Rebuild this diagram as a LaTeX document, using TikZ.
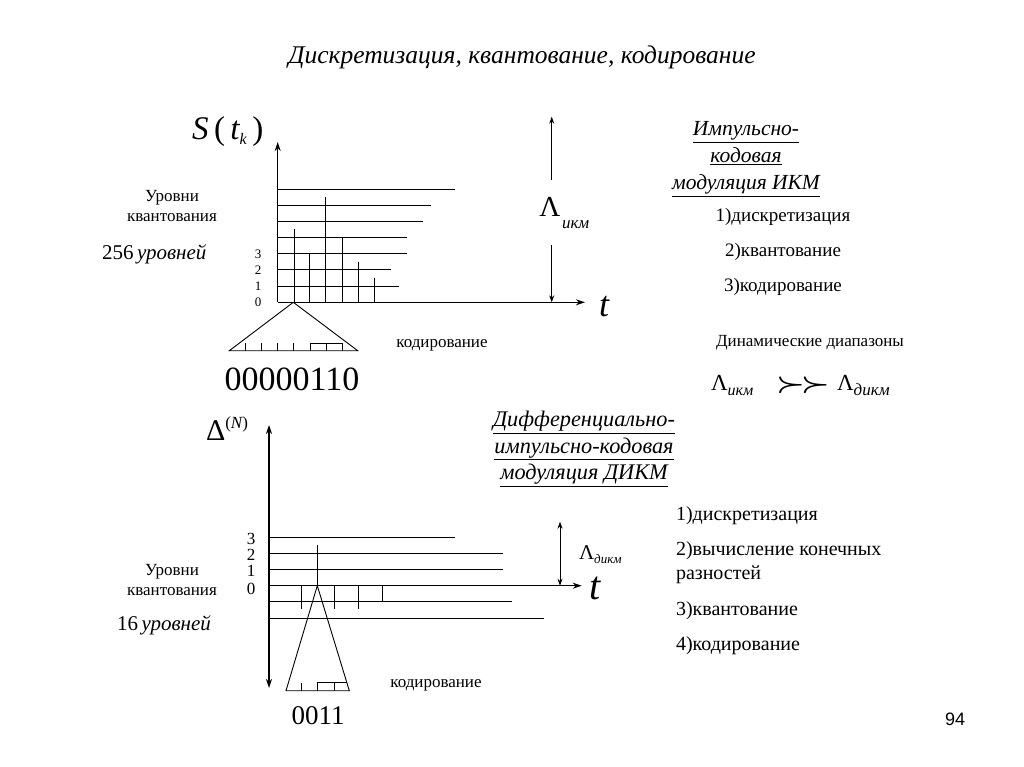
\documentclass[tikz,border=0pt]{standalone}
\usepackage{fontspec}
\usepackage{graphicx}
\setmainfont{Liberation Serif}
\newfontfamily\sansf{Liberation Sans}
\usetikzlibrary{arrows.meta}
\newcommand\fsz[1]{\fontsize{#1}{#1}\selectfont}
\begin{document}
\begin{tikzpicture}[x=1pt,y=-1pt,
  every node/.style={inner sep=0pt,outer sep=0pt},
  thinline/.style={line width=0.9pt},
  axisline/.style={line width=1.4pt},
  arr/.style={-{Stealth[length=9pt,width=6pt]}},
  darr/.style={{Stealth[length=9pt,width=6pt]}-{Stealth[length=9pt,width=6pt]}},
  smallarr/.style={-{Stealth[length=7pt,width=5pt]}},
  dsmallarr/.style={{Stealth[length=7pt,width=5pt]}-{Stealth[length=7pt,width=5pt]}},
  txt/.style={font=\fsz{17}},
  lvl/.style={font=\fsz{13}},
  lvlb/.style={font=\fsz{17}},
]
\fill[white] (0,0) rectangle (1024,767);
\useasboundingbox (0,0) rectangle (1024,767);

% title
\node[font=\fsz{25.5}\itshape] (title) at (522,57) {Дискретизация, квантование, кодирование};

% ===== top chart =====
\coordinate (O1) at (277.7,302.3);
\coordinate (Y1) at (277.7,142);
\coordinate (X1) at (585,302.3);
\draw[axisline,arr] (O1) -- (Y1);
\draw[axisline,arr] (O1) -- (X1);
\foreach \y/\e in {189/455,205/431,221/423,237/407,253.7/407,269.7/391,286/399}
  \draw[thinline] (277.7,\y) -- (\e,\y);
\foreach \x/\t in {294/229.3,309.7/253.7,325.7/197.3,342/237.7,358/262,374/278}
  \draw[thinline] (\x,302.3) -- (\x,\t);
\node[lvl] (l3) at (258,254) {3};
\node[lvl] (l2) at (258,270) {2};
\node[lvl] (l1) at (258,286) {1};
\node[lvl] (l0) at (258,302) {0};
% coding triangle
\draw[thinline] (293.3,302.3) -- (229.3,350.7) -- (357.7,350.7) -- cycle;
\foreach \x in {245,261,277,293.3,310,326,342}
  \draw[thinline] (\x,350.7) -- (\x,343.3);
\draw[thinline] (310,343.3) -- (342,343.3);
\node[font=\fsz{34}] (code1) at (292,379) {00000110};
\node[txt] (kod1) at (442,345) {кодирование};

% S(t_k)
\node[font=\fsz{33}, anchor=base west] (S) at (192,140)
  {\itshape S\upshape\,(\,\itshape t\raisebox{-5pt}{\fsz{16}k}\upshape\,)};

% Lambda ikm arrow
\coordinate (La) at (551.7,180);
\coordinate (Lt) at (551.7,116.7);
\coordinate (Lb) at (551.7,245);
\coordinate (Lo) at (551.7,302.3);
\draw[thinline,smallarr] (La) -- (Lt);
\draw[thinline,smallarr] (Lb) -- (Lo);
\node[font=\fsz{29}, anchor=base] (LamI) at (550,217) {Λ};
\node[font=\fsz{17}\itshape, anchor=base west] (LamIsub) at (562,229) {икм};

% t label
\node[font=\fsz{36}\itshape] (t1) at (604,307) {t};

% levels text top
\node[txt] (ur1) at (172,198) {Уровни};
\node[txt] (kv1) at (172,218) {квантования};
\node[font=\fsz{21}, anchor=base west] (n256) at (102,259) {256\,\itshape уровней};

% heading IKM
\node[font=\fontsize{21.5}{27}\selectfont\itshape,align=center] (h1) at (746,159)
  {\underline{Импульсно-}\\\underline{кодовая}\\\underline{модуляция ИКМ}};
\node[font=\fsz{19}] (s1) at (783,217) {1)дискретизация};
\node[font=\fsz{19}] (s2) at (783,252) {2)квантование};
\node[font=\fsz{19}] (s3) at (783,287) {3)кодирование};

% dynamic ranges
\node[txt] (dyn) at (810,343) {Динамические диапазоны};
\node[font=\fsz{23}, anchor=base west] (dl1) at (711,390) {Λ\raisebox{-5pt}{\fsz{16}\itshape икм}};
\node[anchor=base] (succ) at (803,391) {\scalebox{1.3}[1]{\fsz{24}\boldmath$\succ\mkern-2mu\succ$}};
\node[font=\fsz{23}, anchor=base west] (dl2) at (837,390) {Λ\raisebox{-5pt}{\fsz{17}\itshape дикм}};

% ===== bottom chart =====
\coordinate (O2) at (269,585.7);
\coordinate (Y2t) at (269,425);
\coordinate (Y2b) at (269,688);
\coordinate (X2) at (581.7,585.7);
\draw[axisline,darr] (Y2t) -- (Y2b);
\draw[axisline,arr] (O2) -- (X2);
\foreach \y/\e in {537/455,553.7/503,569.7/503,601.7/511.7,618/544}
  \draw[thinline] (269,\y) -- (\e,\y);
\draw[thinline] (317.3,545) -- (317.3,585.7);
\foreach \x/\b in {301.7/609.3,334/609.3,358/609.3,382.3/601.7}
  \draw[thinline] (\x,585.7) -- (\x,\b);
\node[lvlb] (m3) at (251,539) {3};
\node[lvlb] (m2) at (251,555) {2};
\node[lvlb] (m1) at (251,571) {1};
\node[lvlb] (m0) at (251,589) {0};
% coding triangle
\draw[thinline] (317.3,585.7) -- (286,690.7) -- (349.3,690.7) -- cycle;
\foreach \x in {301.7,317.3,334}
  \draw[thinline] (\x,690.7) -- (\x,682.7);
\draw[thinline] (317.3,682.7) -- (346.9,682.7);
\node[font=\fsz{27}] (code2) at (318,716) {0011};
\node[txt] (kod2) at (436,685) {кодирование};

% Delta^(N)
\node[font=\fsz{30}, anchor=base west] (D) at (206,440) {Δ\raisebox{12pt}{\fsz{17}(\itshape N\upshape)}};

% Lambda dikm
\coordinate (Ld1) at (560,521.7);
\coordinate (Ld2) at (560,585.7);
\draw[thinline,dsmallarr] (Ld1) -- (Ld2);
\node[font=\fsz{21}, anchor=base west] (LamD) at (579,559) {Λ\raisebox{-4pt}{\fsz{13}\itshape дикм}};

\node[font=\fsz{40}\itshape] (t2) at (595,588) {t};

% levels text bottom
\node[txt] (ur2) at (172,572) {Уровни};
\node[txt] (kv2) at (172,592) {квантования};
\node[font=\fsz{21}, anchor=base west] (n16) at (117,630) {16\,\itshape уровней};

% heading DIKM
\node[font=\fontsize{22.3}{26.5}\selectfont\itshape,align=center] (h2) at (584,449)
  {\underline{Дифференциально-}\\\underline{импульсно-кодовая}\\\underline{модуляция ДИКМ}};
\node[font=\fsz{20}, anchor=west] (d1) at (676,516) {1)дискретизация};
\node[font=\fsz{20}, anchor=west] (d2) at (676,551) {2)вычисление конечных};
\node[font=\fsz{20}, anchor=west] (d2b) at (676,575) {разностей};
\node[font=\fsz{20}, anchor=west] (d3) at (676,611) {3)квантование};
\node[font=\fsz{20}, anchor=west] (d4) at (676,646) {4)кодирование};

% page number
\node[font=\sansf\fsz{18}] (pg) at (955,719) {94};
\end{tikzpicture}
\end{document}
